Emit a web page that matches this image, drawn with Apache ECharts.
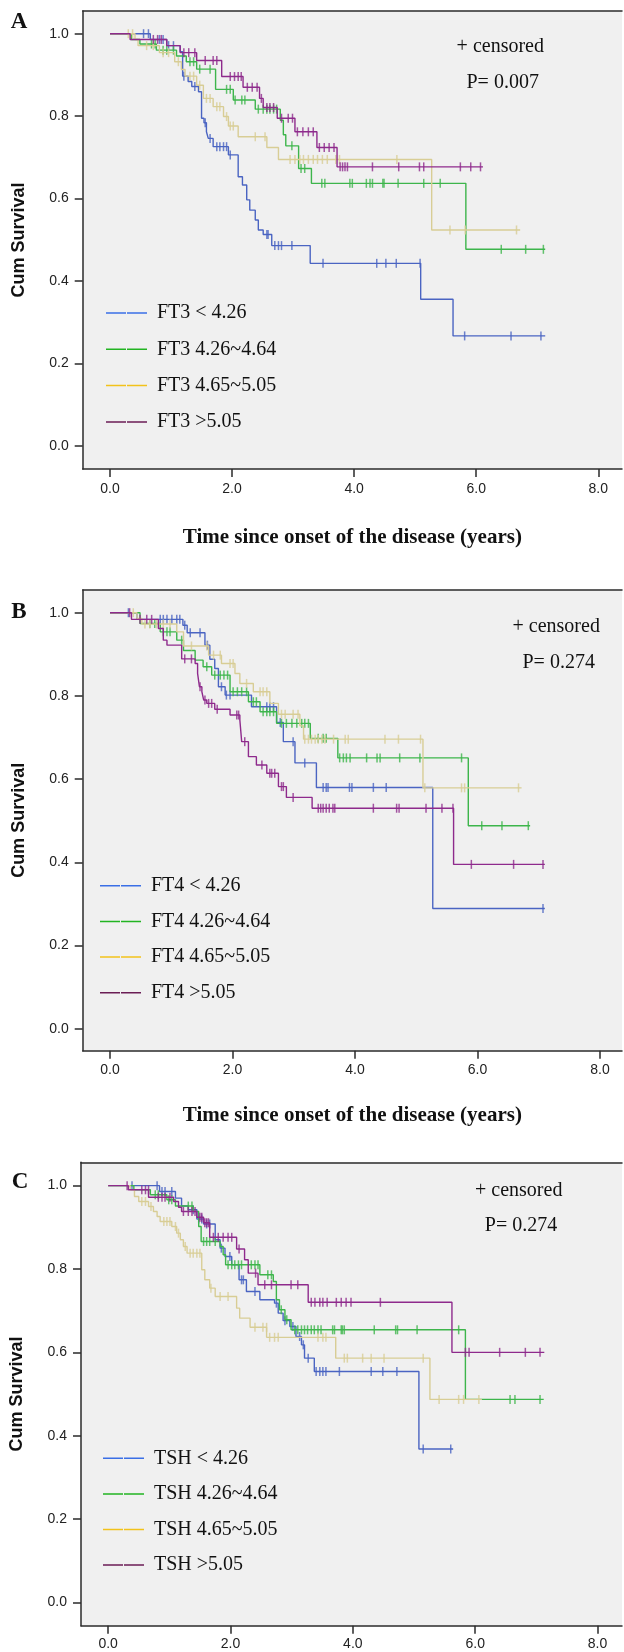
<!DOCTYPE html>
<html>
<head>
<meta charset="utf-8">
<script src="https://cdn.jsdelivr.net/npm/echarts@6/dist/echarts.min.js"></script>
<style>
html,body{margin:0;padding:0;background:#fff;}
#chart{width:624px;height:1652px;}
</style>
</head>
<body>
<div id="chart"></div>
<script>
// ---------- tick labels ----------
const xTicks = [0, 2, 4, 6, 8];
const yTicks = [0, 0.2, 0.4, 0.6, 0.8, 1.0];
const xTitle = 'Time since onset of the disease (years)';
const yTitle = 'Cum Survival';
const panelLetters = ['A', 'B', 'C'];
const pValues = ['P= 0.007', 'P= 0.274', 'P= 0.274'];
const censoredNote = '+ censored';

// ---------- group names ----------
const groupsFT3 = ['FT3 < 4.26', 'FT3 4.26~4.64', 'FT3 4.65~5.05', 'FT3 >5.05'];
const groupsFT4 = ['FT4 < 4.26', 'FT4 4.26~4.64', 'FT4 4.65~5.05', 'FT4 >5.05'];
const groupsTSH = ['TSH < 4.26', 'TSH 4.26~4.64', 'TSH 4.65~5.05', 'TSH >5.05'];

// ---------- Panel A: FT3 ----------
const ft3LowSteps = [[0,1],[0.66,0.986],[0.93,0.971],[1.15,0.956],[1.19,0.897],[1.28,0.884],[1.34,0.872],[1.45,0.859],[1.50,0.795],[1.54,0.784],[1.58,0.762],[1.61,0.746],[1.69,0.726],[1.94,0.706],[2.10,0.653],[2.17,0.633],[2.24,0.597],[2.29,0.572],[2.38,0.548],[2.43,0.524],[2.51,0.513],[2.65,0.486],[3.28,0.443],[5.09,0.356],[5.62,0.267],[7.13,0.267]];
const ft3LowCens = [[0.55,1],[0.63,1],[0.81,0.986],[0.87,0.986],[0.96,0.971],[1.04,0.971],[1.21,0.897],[1.39,0.872],[1.56,0.784],[1.64,0.746],[1.75,0.726],[1.80,0.726],[1.86,0.726],[1.91,0.726],[1.97,0.706],[2.57,0.513],[2.59,0.513],[2.70,0.486],[2.76,0.486],[2.81,0.486],[2.98,0.486],[3.49,0.443],[4.37,0.443],[4.52,0.443],[4.69,0.443],[5.08,0.443],[5.81,0.267],[6.57,0.267],[7.06,0.267]];
const ft3MidSteps = [[0,1],[0.35,0.986],[0.49,0.975],[0.76,0.96],[1.09,0.946],[1.25,0.932],[1.42,0.914],[1.73,0.865],[2.02,0.839],[2.38,0.817],[2.79,0.79],[2.84,0.755],[2.88,0.728],[3.09,0.673],[3.30,0.637],[5.83,0.477],[7.13,0.477]];
const ft3MidCens = [[0.68,0.975],[0.74,0.975],[0.87,0.96],[0.93,0.96],[1.04,0.96],[1.31,0.932],[1.37,0.932],[1.47,0.914],[1.64,0.914],[1.91,0.865],[1.97,0.865],[2.05,0.839],[2.16,0.839],[2.21,0.839],[2.43,0.817],[2.51,0.817],[2.57,0.817],[2.62,0.817],[2.68,0.817],[2.73,0.817],[2.98,0.728],[3.13,0.673],[3.19,0.673],[3.47,0.637],[3.52,0.637],[3.93,0.637],[3.97,0.637],[4.20,0.637],[4.26,0.637],[4.30,0.637],[4.47,0.637],[4.49,0.637],[4.72,0.637],[5.14,0.637],[5.41,0.637],[6.41,0.477],[6.81,0.477],[7.10,0.477]];
const ft3UpSteps = [[0,1],[0.41,0.986],[0.46,0.971],[0.81,0.954],[1.06,0.932],[1.17,0.913],[1.23,0.897],[1.42,0.875],[1.53,0.843],[1.69,0.823],[1.86,0.799],[1.94,0.776],[2.10,0.75],[2.57,0.724],[2.76,0.695],[5.27,0.524],[6.72,0.524]];
const ft3UpCens = [[0.30,1],[0.37,1],[0.60,0.971],[0.71,0.971],[0.87,0.954],[0.96,0.954],[1.12,0.932],[1.31,0.897],[1.37,0.897],[1.47,0.875],[1.58,0.843],[1.64,0.843],[1.75,0.823],[1.80,0.823],[1.91,0.799],[1.97,0.776],[2.02,0.776],[2.38,0.75],[2.54,0.75],[2.95,0.695],[3.03,0.695],[3.11,0.695],[3.17,0.695],[3.25,0.695],[3.33,0.695],[3.40,0.695],[3.48,0.695],[3.56,0.695],[3.70,0.695],[3.76,0.695],[4.70,0.695],[5.57,0.524],[5.82,0.524],[6.66,0.524]];
const ft3HighSteps = [[0,1],[0.33,0.986],[0.93,0.971],[1.15,0.954],[1.42,0.935],[1.83,0.896],[2.18,0.87],[2.45,0.843],[2.51,0.821],[2.74,0.795],[3.03,0.762],[3.39,0.724],[3.72,0.677],[6.11,0.677]];
const ft3HighCens = [[0.71,0.986],[0.78,0.986],[0.84,0.986],[1.21,0.954],[1.29,0.954],[1.39,0.954],[1.56,0.935],[1.69,0.935],[1.75,0.935],[1.97,0.896],[2.04,0.896],[2.10,0.896],[2.15,0.896],[2.25,0.87],[2.33,0.87],[2.41,0.87],[2.48,0.843],[2.57,0.821],[2.62,0.821],[2.68,0.821],[2.81,0.795],[2.92,0.795],[2.99,0.795],[3.07,0.762],[3.16,0.762],[3.25,0.762],[3.33,0.762],[3.43,0.724],[3.51,0.724],[3.59,0.724],[3.67,0.724],[3.77,0.677],[3.81,0.677],[3.85,0.677],[3.89,0.677],[4.30,0.677],[4.73,0.677],[5.07,0.677],[5.14,0.677],[5.74,0.677],[5.91,0.677],[6.07,0.677]];

// ---------- Panel B: FT4 ----------
const ft4LowSteps = [[0,1],[0.44,0.984],[1.19,0.970],[1.26,0.952],[1.55,0.922],[1.63,0.888],[1.71,0.866],[1.77,0.822],[1.88,0.802],[2.31,0.774],[2.72,0.736],[2.83,0.69],[3.02,0.639],[3.37,0.58],[5.27,0.289],[7.10,0.289]];
const ft4LowCens = [[0.30,1],[0.82,0.984],[0.87,0.984],[0.93,0.984],[1.01,0.984],[1.09,0.984],[1.14,0.984],[1.22,0.970],[1.31,0.952],[1.47,0.952],[1.59,0.922],[1.82,0.822],[1.90,0.802],[1.96,0.802],[2.56,0.774],[2.61,0.774],[2.67,0.774],[2.78,0.736],[2.99,0.69],[3.18,0.639],[3.48,0.58],[3.53,0.58],[3.56,0.58],[3.91,0.58],[3.95,0.58],[4.30,0.58],[4.51,0.58],[7.07,0.289]];
const ft4MidSteps = [[0,1],[0.49,0.974],[0.82,0.954],[1.09,0.934],[1.20,0.909],[1.39,0.886],[1.52,0.87],[1.66,0.85],[1.96,0.81],[2.26,0.786],[2.45,0.762],[2.72,0.734],[3.27,0.698],[3.72,0.651],[5.85,0.488],[6.86,0.488]];
const ft4MidCens = [[0.65,0.974],[0.73,0.974],[0.87,0.954],[0.93,0.954],[0.98,0.954],[1.17,0.934],[1.58,0.87],[1.71,0.85],[1.80,0.85],[1.86,0.85],[1.92,0.85],[2.01,0.81],[2.08,0.81],[2.15,0.81],[2.23,0.81],[2.34,0.786],[2.39,0.786],[2.50,0.762],[2.56,0.762],[2.61,0.762],[2.67,0.762],[2.80,0.734],[2.88,0.734],[2.97,0.734],[3.05,0.734],[3.13,0.734],[3.18,0.734],[3.24,0.734],[3.40,0.698],[3.48,0.698],[3.53,0.698],[3.75,0.651],[3.81,0.651],[3.86,0.651],[3.92,0.651],[4.19,0.651],[4.36,0.651],[4.41,0.651],[4.73,0.651],[5.06,0.651],[5.74,0.651],[6.07,0.488],[6.40,0.488],[6.83,0.488]];
const ft4UpSteps = [[0,1],[0.44,0.986],[0.52,0.973],[1.09,0.954],[1.20,0.92],[1.61,0.898],[1.82,0.878],[2.04,0.854],[2.12,0.83],[2.34,0.81],[2.61,0.782],[2.75,0.756],[3.10,0.728],[3.16,0.696],[5.11,0.579],[6.72,0.579]];
const ft4UpCens = [[0.38,1],[0.57,0.973],[0.65,0.973],[0.76,0.973],[0.87,0.973],[0.98,0.973],[1.33,0.92],[1.58,0.92],[1.69,0.898],[1.80,0.898],[1.96,0.878],[2.01,0.878],[2.23,0.83],[2.45,0.81],[2.50,0.81],[2.56,0.81],[2.80,0.756],[2.86,0.756],[2.99,0.756],[3.07,0.756],[3.18,0.696],[3.24,0.696],[3.29,0.696],[3.35,0.696],[3.40,0.696],[3.46,0.696],[3.51,0.696],[3.65,0.696],[3.84,0.696],[3.89,0.696],[4.49,0.696],[4.71,0.696],[5.07,0.696],[5.14,0.579],[5.74,0.579],[5.79,0.579],[6.67,0.579]];
const ft4HighSteps = [[0,1],[0.35,0.984],[0.79,0.962],[0.87,0.934],[0.93,0.922],[1.17,0.889],[1.39,0.878],[1.43,0.854],[1.46,0.822],[1.50,0.81],[1.53,0.79],[1.58,0.782],[1.71,0.768],[1.96,0.754],[2.12,0.742],[2.15,0.69],[2.26,0.654],[2.39,0.634],[2.56,0.614],[2.75,0.582],[2.88,0.556],[3.30,0.530],[5.61,0.395],[7.10,0.395]];
const ft4HighCens = [[0.32,1],[0.49,0.984],[0.60,0.984],[0.68,0.984],[1.22,0.889],[1.33,0.889],[1.47,0.822],[1.55,0.79],[1.61,0.782],[1.66,0.782],[1.75,0.768],[2.07,0.754],[2.10,0.754],[2.20,0.69],[2.48,0.634],[2.61,0.614],[2.64,0.614],[2.69,0.614],[2.80,0.582],[2.83,0.582],[2.99,0.556],[3.40,0.530],[3.44,0.530],[3.48,0.530],[3.53,0.530],[3.58,0.530],[3.64,0.530],[3.67,0.530],[4.30,0.530],[4.68,0.530],[4.72,0.530],[5.16,0.530],[5.42,0.530],[5.60,0.530],[5.90,0.395],[6.59,0.395],[7.07,0.395]];

// ---------- Panel C: TSH ----------
const tshLowSteps = [[0,1],[0.84,0.986],[1.10,0.97],[1.20,0.951],[1.31,0.942],[1.45,0.92],[1.56,0.908],[1.75,0.87],[1.83,0.85],[1.91,0.83],[2.02,0.81],[2.14,0.774],[2.26,0.746],[2.48,0.726],[2.72,0.718],[2.78,0.694],[2.86,0.676],[2.97,0.662],[3.07,0.638],[3.16,0.618],[3.21,0.586],[3.37,0.554],[5.08,0.368],[5.64,0.368]];
const tshLowCens = [[0.39,1],[0.80,1],[0.88,0.986],[0.93,0.986],[1.04,0.986],[1.39,0.942],[1.48,0.92],[1.53,0.92],[1.61,0.908],[1.66,0.908],[1.85,0.85],[1.99,0.83],[2.18,0.774],[2.21,0.774],[2.40,0.746],[2.75,0.718],[2.89,0.676],[3.02,0.662],[3.13,0.638],[3.19,0.618],[3.27,0.586],[3.40,0.554],[3.46,0.554],[3.51,0.554],[3.56,0.554],[3.78,0.554],[4.30,0.554],[4.49,0.554],[4.72,0.554],[5.15,0.368],[5.60,0.368]];
const tshMidSteps = [[0,1],[0.42,0.99],[0.69,0.978],[0.96,0.966],[1.10,0.951],[1.39,0.938],[1.48,0.902],[1.52,0.866],[1.83,0.854],[1.88,0.834],[1.92,0.81],[2.48,0.786],[2.70,0.77],[2.75,0.726],[2.80,0.702],[2.89,0.678],[2.99,0.654],[5.84,0.487],[7.12,0.487]];
const tshMidCens = [[0.77,0.978],[0.82,0.978],[0.99,0.966],[1.04,0.966],[1.31,0.951],[1.37,0.951],[1.56,0.866],[1.61,0.866],[1.66,0.866],[1.75,0.866],[1.96,0.81],[2.02,0.81],[2.07,0.81],[2.13,0.81],[2.18,0.81],[2.34,0.81],[2.40,0.81],[2.45,0.81],[2.61,0.786],[2.67,0.786],[2.83,0.702],[2.92,0.678],[3.05,0.654],[3.10,0.654],[3.16,0.654],[3.21,0.654],[3.26,0.654],[3.32,0.654],[3.37,0.654],[3.43,0.654],[3.48,0.654],[3.67,0.654],[3.70,0.654],[3.81,0.654],[3.83,0.654],[3.86,0.654],[4.35,0.654],[4.70,0.654],[4.73,0.654],[5.05,0.654],[5.73,0.654],[6.57,0.487],[6.65,0.487],[7.06,0.487]];
const tshUpSteps = [[0,1],[0.36,0.99],[0.43,0.974],[0.50,0.962],[0.66,0.95],[0.74,0.938],[0.80,0.926],[0.85,0.914],[1.04,0.902],[1.12,0.886],[1.18,0.87],[1.23,0.854],[1.29,0.838],[1.53,0.798],[1.58,0.774],[1.66,0.754],[1.75,0.734],[2.10,0.706],[2.15,0.682],[2.32,0.66],[2.59,0.636],[3.72,0.586],[5.26,0.487],[6.11,0.487]];
const tshUpCens = [[0.55,0.962],[0.61,0.962],[0.70,0.95],[0.91,0.914],[0.96,0.914],[1.01,0.914],[1.10,0.902],[1.15,0.886],[1.26,0.854],[1.34,0.838],[1.39,0.838],[1.45,0.838],[1.50,0.838],[1.68,0.754],[1.83,0.734],[1.96,0.734],[2.40,0.66],[2.53,0.66],[2.59,0.66],[2.64,0.636],[2.72,0.636],[2.78,0.636],[3.43,0.636],[3.51,0.636],[3.56,0.636],[3.86,0.586],[3.91,0.586],[4.16,0.586],[4.30,0.586],[4.51,0.586],[5.15,0.586],[5.41,0.487],[5.73,0.487],[5.81,0.487],[6.06,0.487]];
const tshHighSteps = [[0,1],[0.33,0.99],[0.66,0.972],[1.07,0.962],[1.15,0.948],[1.20,0.938],[1.45,0.924],[1.56,0.911],[1.66,0.876],[2.10,0.848],[2.23,0.822],[2.29,0.79],[2.45,0.762],[3.27,0.720],[5.62,0.600],[7.13,0.600]];
const tshHighCens = [[0.31,1],[0.55,0.99],[0.61,0.99],[0.66,0.99],[0.82,0.972],[0.88,0.972],[0.93,0.972],[1.01,0.972],[1.23,0.938],[1.31,0.938],[1.37,0.938],[1.42,0.938],[1.50,0.924],[1.53,0.924],[1.58,0.911],[1.61,0.911],[1.64,0.911],[1.72,0.876],[1.80,0.876],[1.88,0.876],[1.96,0.876],[2.02,0.876],[2.14,0.848],[2.41,0.79],[2.56,0.762],[2.67,0.762],[2.99,0.762],[3.10,0.762],[3.32,0.720],[3.38,0.720],[3.46,0.720],[3.51,0.720],[3.58,0.720],[3.73,0.720],[3.81,0.720],[3.89,0.720],[3.97,0.720],[4.45,0.720],[5.84,0.600],[5.90,0.600],[6.40,0.600],[6.82,0.600],[7.06,0.600]];

// ---------- assemble ----------
const panelData = [
  {names: groupsFT3, steps: [ft3LowSteps, ft3MidSteps, ft3UpSteps, ft3HighSteps], cens: [ft3LowCens, ft3MidCens, ft3UpCens, ft3HighCens]},
  {names: groupsFT4, steps: [ft4LowSteps, ft4MidSteps, ft4UpSteps, ft4HighSteps], cens: [ft4LowCens, ft4MidCens, ft4UpCens, ft4HighCens]},
  {names: groupsTSH, steps: [tshLowSteps, tshMidSteps, tshUpSteps, tshHighSteps], cens: [tshLowCens, tshMidCens, tshUpCens, tshHighCens]}
];

// styles / layout
const lineColors = ['#4a64c2', '#3db54b', '#d8cd95', '#8e2a8c'];
const legendColors = ['#3a6fe6', '#22b422', '#f2c21b', '#6b1d55'];
const layout = [
  {grid:{left:82.7, top:11, width:539.3, height:458}, xr:[-0.447, 8.388], yr:[-0.0558, 1.055], showXName:true, xNameGap:58, xLabelMargin:13,
   legend:{left:106, top:302, gap:14.3}, letter:[19,22.5], cens:[500.3,47], pval:[502.7,82.5]},
  {grid:{left:82.7, top:590, width:539.3, height:460.7}, xr:[-0.446, 8.36], yr:[-0.0529, 1.0546], showXName:true, xNameGap:54, xLabelMargin:12,
   legend:{left:100, top:874.7, gap:13.7}, letter:[19,612.5], cens:[556.2,627], pval:[558.7,662.5]},
  {grid:{left:78.7, top:1162.3, width:543.3, height:463.4}, xr:[-0.444, 8.40], yr:[-0.056, 1.056], showXName:false, xNameGap:0, xLabelMargin:11,
   legend:{left:103, top:1447.3, gap:13.6}, letter:[20,1182.5], cens:[518.7,1190.3], pval:[521,1225.8]}
];

const axisLineStyle = {color:'#2b2b2b', width:1.5};
const grids = [], xAxes = [], yAxes = [], series = [], legends = [], graphics = [];

layout.forEach((L, i) => {
  grids.push(Object.assign({show:true, backgroundColor:'#f0f0f0', borderWidth:0, containLabel:false}, L.grid));
  xAxes.push({
    type:'value', gridIndex:i, position:'bottom', min:L.xr[0], max:L.xr[1],
    axisLine:{show:true, onZero:false, lineStyle:axisLineStyle},
    axisTick:{show:true, inside:false, length:8, lineStyle:axisLineStyle, customValues:xTicks},
    axisLabel:{show:true, margin:L.xLabelMargin, customValues:xTicks, formatter:v => v.toFixed(1),
      fontFamily:'Liberation Sans', fontSize:14, color:'#222'},
    splitLine:{show:false},
    name: L.showXName ? xTitle : '', nameLocation:'middle', nameGap:L.xNameGap,
    nameTextStyle:{fontFamily:'Liberation Serif', fontWeight:'bold', fontSize:21, color:'#111', lineHeight:21}
  });
  xAxes.push({
    type:'value', gridIndex:i, position:'top', min:L.xr[0], max:L.xr[1],
    axisLine:{show:true, onZero:false, lineStyle:axisLineStyle},
    axisTick:{show:false}, axisLabel:{show:false}, splitLine:{show:false}
  });
  yAxes.push({
    type:'value', gridIndex:i, position:'left', min:L.yr[0], max:L.yr[1],
    axisLine:{show:true, onZero:false, lineStyle:axisLineStyle},
    axisTick:{show:true, inside:false, length:8, lineStyle:axisLineStyle, customValues:yTicks},
    axisLabel:{show:true, margin:14, customValues:yTicks, formatter:v => v.toFixed(1),
      fontFamily:'Liberation Sans', fontSize:14, color:'#222'},
    splitLine:{show:false},
    name:yTitle, nameLocation:'middle', nameRotate:90, nameGap:55,
    nameTextStyle:{fontFamily:'Liberation Sans', fontWeight:'bold', fontSize:18, color:'#111', lineHeight:18}
  });

  const P = panelData[i];
  P.names.forEach((nm, k) => {
    series.push({
      type:'line', name:nm, xAxisIndex:2*i, yAxisIndex:i, data:P.steps[k], step:'end',
      showSymbol:false, symbol:'none', silent:true, z:2+k,
      lineStyle:{color:lineColors[k], width:1.4}, itemStyle:{color:lineColors[k]}
    });
    series.push({
      type:'scatter', name:nm, xAxisIndex:2*i, yAxisIndex:i, data:P.cens[k],
      symbol:'rect', symbolSize:[1.5, 9], silent:true, z:2+k,
      itemStyle:{color:lineColors[k]}
    });
  });

  legends.push({
    orient:'vertical', left:L.legend.left, top:L.legend.top, itemGap:L.legend.gap,
    itemWidth:41, itemHeight:1.5, padding:0, selectedMode:false,
    icon:'path://M0,0H20V1.5H0Z M21,0H41V1.5H21Z',
    data:P.names.map((nm, k) => ({name:nm, itemStyle:{color:legendColors[k], borderWidth:0}})),
    textStyle:{fontFamily:'Liberation Serif', fontSize:20, color:'#111', lineHeight:22, padding:[0,0,0,5]}
  });

  graphics.push({type:'text', x:L.letter[0], y:L.letter[1], silent:true,
    style:{text:panelLetters[i], fill:'#111', font:'bold 23px "Liberation Serif"', align:'center', verticalAlign:'middle', textAlign:'center', textVerticalAlign:'middle'}});
  graphics.push({type:'text', x:L.cens[0], y:L.cens[1], silent:true,
    style:{text:censoredNote, fill:'#111', font:'20px "Liberation Serif"', align:'center', verticalAlign:'middle', textAlign:'center', textVerticalAlign:'middle'}});
  graphics.push({type:'text', x:L.pval[0], y:L.pval[1], silent:true,
    style:{text:pValues[i], fill:'#111', font:'20px "Liberation Serif"', align:'center', verticalAlign:'middle', textAlign:'center', textVerticalAlign:'middle'}});
});

const chart = echarts.init(document.getElementById('chart'), null, {renderer:'canvas', width:624, height:1652});
chart.setOption({
  animation:false,
  backgroundColor:'#ffffff',
  grid:grids, xAxis:xAxes, yAxis:yAxes, series:series, legend:legends,
  graphic:{elements:graphics}
});
</script>
</body>
</html>
